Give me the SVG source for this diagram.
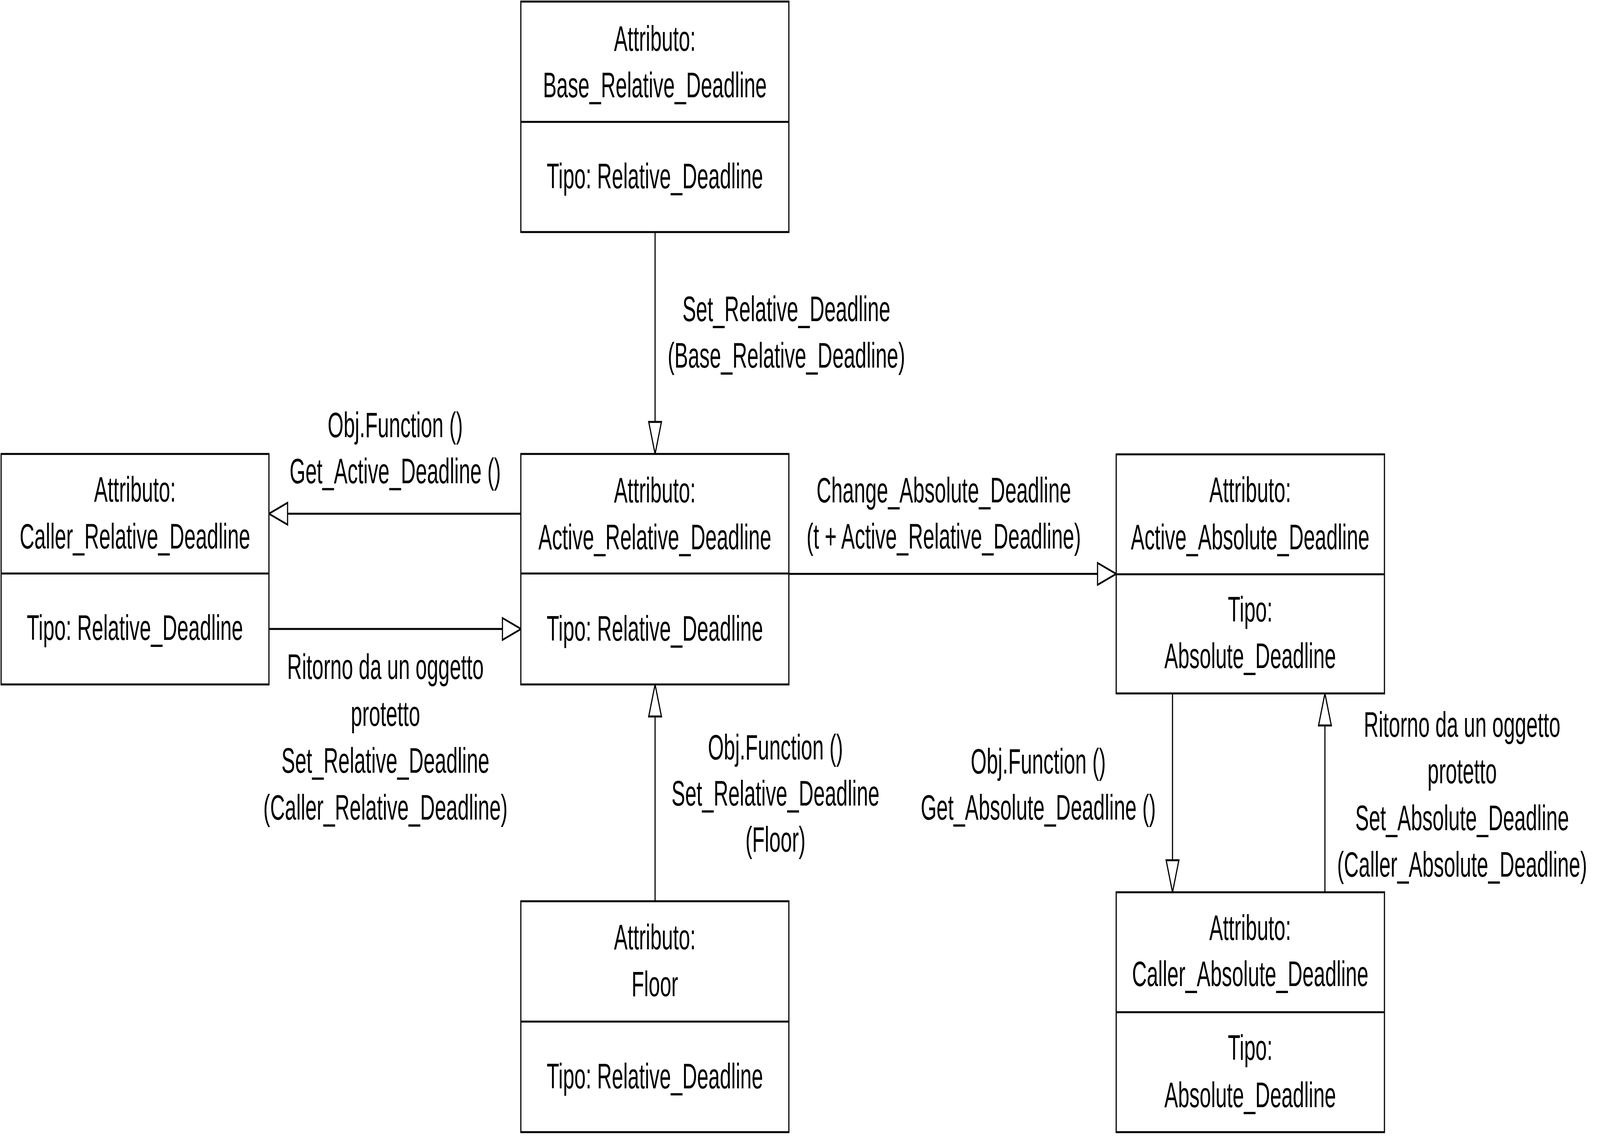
<svg xmlns="http://www.w3.org/2000/svg" width="7044" height="2913" viewBox="0 0 7044 2913" preserveAspectRatio="none" style="width:100vw;height:100vh;display:block">
<style>
.box{fill:#fff;stroke:#000;stroke-width:5}
.div{stroke:#000;stroke-width:5}
text{font-family:"Liberation Sans",Arial,sans-serif;font-size:90px;fill:#000;text-anchor:middle}
.conn{stroke:#000;stroke-width:5;fill:none;marker-end:url(#open)}
</style>
<defs>
<marker id="open" markerUnits="userSpaceOnUse" viewBox="0 0 92 64" markerWidth="92" markerHeight="64" refX="86" refY="32" orient="auto" overflow="visible">
<path d="M4,4 L86,32 L4,60 Z" fill="#fff" stroke="#000" stroke-width="5" stroke-linejoin="miter"/>
</marker>
</defs>
<rect width="7044" height="2913" fill="#fff"/>
<g id="connectors">
<line class="conn" x1="2884" y1="594" x2="2884" y2="1162"/>
<line class="conn" x1="2294" y1="1315" x2="1184" y2="1315"/>
<line class="conn" x1="1184" y1="1610" x2="2294" y2="1610"/>
<line class="conn" x1="2884" y1="2307" x2="2884" y2="1752"/>
<line class="conn" x1="3473" y1="1469" x2="4914" y2="1469"/>
<line class="conn" x1="5162" y1="1775" x2="5162" y2="2284"/>
<line class="conn" x1="5833" y1="2284" x2="5833" y2="1775"/>
</g>
<g id="labels">
<text x="3462" y="822">Set_Relative_Deadline</text>
<text x="3462" y="941">(Base_Relative_Deadline)</text>
<text x="1740" y="1119">Obj.Function ()</text>
<text x="1740" y="1237">Get_Active_Deadline ()</text>
<text x="4155" y="1286">Change_Absolute_Deadline</text>
<text x="4155" y="1404">(t + Active_Relative_Deadline)</text>
<text x="1697" y="1738">Ritorno da un oggetto</text>
<text x="1697" y="1858">protetto</text>
<text x="1697" y="1978">Set_Relative_Deadline</text>
<text x="1697" y="2098">(Caller_Relative_Deadline)</text>
<text x="3414" y="1944">Obj.Function ()</text>
<text x="3414" y="2062">Set_Relative_Deadline</text>
<text x="3414" y="2180">(Floor)</text>
<text x="4571" y="1980">Obj.Function ()</text>
<text x="4571" y="2098">Get_Absolute_Deadline ()</text>
<text x="6437" y="1886">Ritorno da un oggetto</text>
<text x="6437" y="2005">protetto</text>
<text x="6437" y="2125">Set_Absolute_Deadline</text>
<text x="6437" y="2244">(Caller_Absolute_Deadline)</text>
</g>
<g id="base_relative_deadline">
<rect class="box" x="2293" y="4" width="1180" height="590"/>
<line class="div" x1="2293" y1="312" x2="3473" y2="312"/>
<text x="2883" y="130">Attributo:</text>
<text x="2883" y="249">Base_Relative_Deadline</text>
<text x="2883" y="482">Tipo: Relative_Deadline</text>
</g>
<g id="caller_relative_deadline">
<rect class="box" x="5" y="1162" width="1179" height="590"/>
<line class="div" x1="5" y1="1468" x2="1184" y2="1468"/>
<text x="594" y="1284">Attributo:</text>
<text x="594" y="1404">Caller_Relative_Deadline</text>
<text x="594" y="1638">Tipo: Relative_Deadline</text>
</g>
<g id="active_relative_deadline">
<rect class="box" x="2293" y="1162" width="1180" height="590"/>
<line class="div" x1="2293" y1="1468" x2="3473" y2="1468"/>
<text x="2883" y="1286">Attributo:</text>
<text x="2883" y="1406">Active_Relative_Deadline</text>
<text x="2883" y="1640">Tipo: Relative_Deadline</text>
</g>
<g id="floor">
<rect class="box" x="2293" y="2307" width="1180" height="591"/>
<line class="div" x1="2293" y1="2615" x2="3473" y2="2615"/>
<text x="2883" y="2430">Attributo:</text>
<text x="2883" y="2550">Floor</text>
<text x="2883" y="2786">Tipo: Relative_Deadline</text>
</g>
<g id="active_absolute_deadline">
<rect class="box" x="4914" y="1163" width="1181" height="612"/>
<line class="div" x1="4914" y1="1470" x2="6095" y2="1470"/>
<text x="5504" y="1285">Attributo:</text>
<text x="5504" y="1406">Active_Absolute_Deadline</text>
<text x="5504" y="1591">Tipo:</text>
<text x="5504" y="1710">Absolute_Deadline</text>
</g>
<g id="caller_absolute_deadline">
<rect class="box" x="4914" y="2284" width="1181" height="614"/>
<line class="div" x1="4914" y1="2591" x2="6095" y2="2591"/>
<text x="5504" y="2406">Attributo:</text>
<text x="5504" y="2524">Caller_Absolute_Deadline</text>
<text x="5504" y="2713">Tipo:</text>
<text x="5504" y="2834">Absolute_Deadline</text>
</g>
</svg>
